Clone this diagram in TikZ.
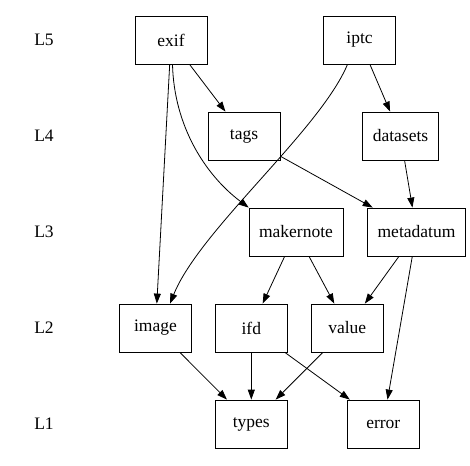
\documentclass[tikz,border=0pt]{standalone}
\usepackage{fontspec}
\setmainfont{Liberation Serif}
\usepackage{tikz}
\usetikzlibrary{arrows.meta}

\begin{document}
\begin{tikzpicture}[x=1pt,y=1pt,line width=0.8pt,font=\fontsize{17.5}{20}\selectfont,
  >={Triangle[length=10pt,width=7pt]},
  mod/.style={draw,rectangle,minimum width=72pt,minimum height=48pt,inner xsep=10pt}]
\useasboundingbox (0,0) rectangle (470,-465);
\node (L5) at (44,-40) {L5};
\node (L4) at (44,-136) {L4};
\node (L3) at (44,-232) {L3};
\node (L2) at (44,-328) {L2};
\node (L1) at (44,-424) {L1};
\node[mod] (exif) at (171,-40) {exif};
\node[mod] (iptc) at (359.5,-40) {iptc};
\node[mod] (tags) at (244,-136) {tags};
\node[mod] (datasets) at (400.5,-136) {datasets};
\node[mod] (makernote) at (296,-232) {makernote};
\node[mod] (metadatum) at (416.5,-232) {metadatum};
\node[mod] (image) at (155.5,-328) {image};
\node[mod] (ifd) at (251.3,-328) {ifd};
\node[mod] (value) at (347.3,-328) {value};
\node[mod] (types) at (251.3,-424) {types};
\node[mod] (error) at (383.3,-424) {error};
\draw[->] (exif)--(tags);
\draw[->] (exif)--(image);
\draw[->] ([xshift=1.5pt]exif.south) .. controls +(1.5,-61) and +(-44,33) .. (makernote.north west);
\draw[->] ([xshift=-12pt]iptc.south) .. controls +(-27.7,-66) and +(30,74) .. ([xshift=14.5pt]image.north);
\draw[->] (iptc)--(datasets);
\draw[->] (tags)--(metadatum);
\draw[->] (datasets)--(metadatum);
\draw[->] (makernote)--(ifd);
\draw[->] (makernote)--(value);
\draw[->] (metadatum)--(value);
\draw[->] (metadatum)--(error);
\draw[->] (image)--(types);
\draw[->] (ifd)--(types);
\draw[->] (ifd)--(error);
\draw[->] (value)--(types);
\end{tikzpicture}
\end{document}
